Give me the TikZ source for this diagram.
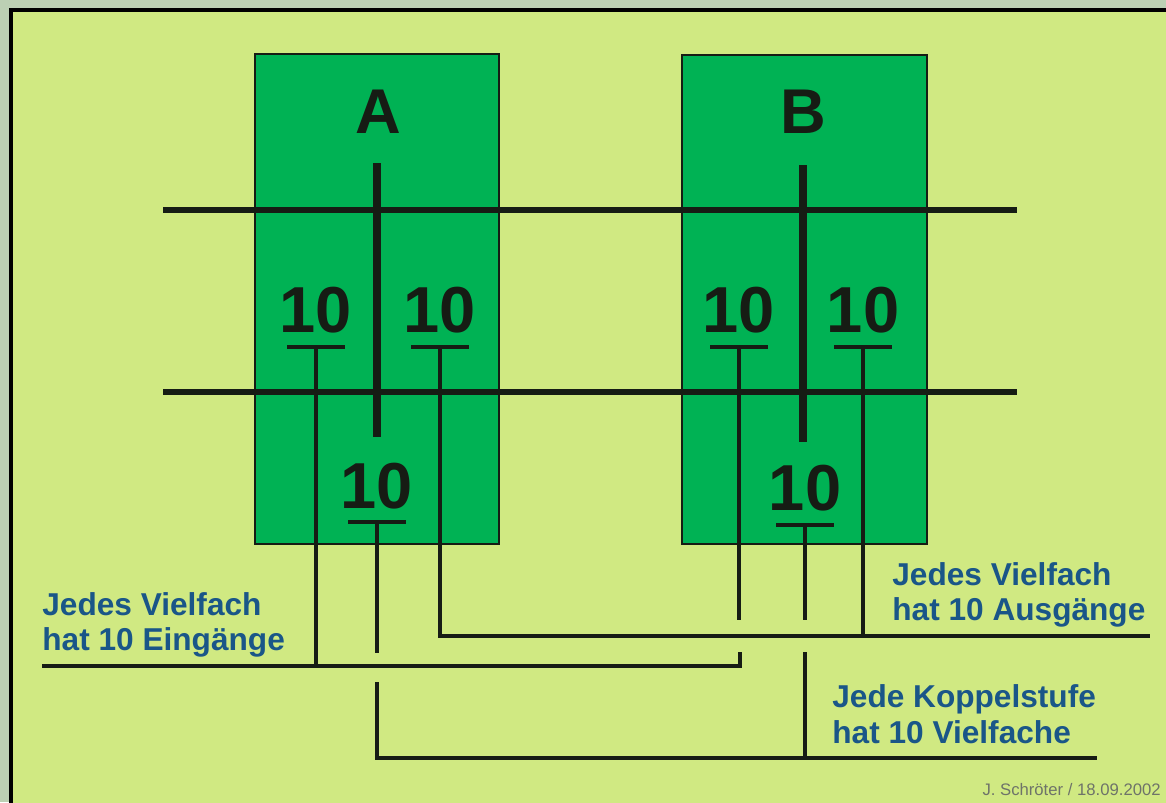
\documentclass[tikz,border=0pt]{standalone}
\usepackage{fontspec}
\setmainfont{Liberation Sans}
\definecolor{outerbg}{RGB}{188,208,180}
\definecolor{panel}{RGB}{208,233,130}
\definecolor{boxgreen}{RGB}{0,178,84}
\definecolor{ink}{RGB}{22,28,20}
\definecolor{labelblue}{RGB}{26,86,136}
\definecolor{credit}{RGB}{110,115,105}
\tikzset{
  x=0.02cm, y=-0.02cm,
  stagebox/.style={fill=boxgreen, draw=ink, line width=1.2pt},
  bus/.style={draw=ink, line width=3.4pt},
  bar/.style={draw=ink, line width=4.6pt},
  wire/.style={draw=ink, line width=1.9pt},
  num/.style={font=\fontsize{37}{40}\selectfont\bfseries, text=ink, inner sep=0pt, anchor=base},
  letter/.style={font=\fontsize{36}{40}\selectfont\bfseries, text=ink, inner sep=0pt, anchor=base},
  note/.style={font=\fontsize{18}{20}\selectfont\bfseries, text=labelblue, inner sep=0pt, anchor=base west},
}
\begin{document}
\begin{tikzpicture}
\useasboundingbox (0,0) rectangle (1166,802);
\begin{scope}
\clip (0,0) rectangle (1166,802);
\fill[outerbg] (0,0) rectangle (1166,802);
\draw[fill=panel, draw=black, line width=1.8pt] (11,10) rectangle (1200,840);

% boxes
\draw[stagebox] (255,54) rectangle (499,544);
\draw[stagebox] (682,55) rectangle (927,544);

% letters
\node[letter] (lA) at (378,133) {A};
\node[letter] (lB) at (803,133) {B};

% bus lines
\coordinate (b1l) at (163,210); \coordinate (b1r) at (1017,210);
\coordinate (b2l) at (163,392); \coordinate (b2r) at (1017,392);
\draw[bus] (b1l) -- (b1r);
\draw[bus] (b2l) -- (b2r);

% bars
\coordinate (aTop) at (377,163); \coordinate (aBot) at (377,437);
\coordinate (bTop) at (803,165); \coordinate (bBot) at (803,442);
\draw[bar] (aTop) -- (aBot);
\draw[bar] (bTop) -- (bBot);

% numbers
\node[num] (a1) at (316,332) {10};
\node[num] (a2) at (440,332) {10};
\node[num] (a3) at (377,508) {10};
\node[num] (b1) at (739,332) {10};
\node[num] (b2) at (863,332) {10};
\node[num] (b3) at (805,510) {10};

% underline coordinates
\foreach \n/\x/\y in {a1/316/347, a2/440/347, a3/377/522, b1/739/347, b2/863/347, b3/805/525}{
  \coordinate (\n L) at (\x-29,\y);
  \coordinate (\n R) at (\x+29,\y);
  \coordinate (\n S) at (\x,\y);
}
\foreach \n in {a1,a2,a3,b1,b2,b3}{
  \draw[wire] (\n L) -- (\n R);
}

% wiring
\coordinate (einL) at (42,666);
\coordinate (eJ) at (316,666);
\coordinate (eEnd) at (740,666);
\coordinate (eUp) at (740,652);
\draw[wire] (a1S) -- (eJ);
\draw[wire] (einL) -- (eEnd) -- (eUp);

\coordinate (ausC) at (440,636);
\coordinate (ausJ) at (863,636);
\coordinate (ausR) at (1150,636);
\draw[wire] (a2S) -- (ausC) -- (ausR);
\draw[wire] (b2S) -- (ausJ);

\coordinate (a3gap) at (377,653);
\coordinate (a3res) at (377,682);
\coordinate (botC) at (377,758);
\coordinate (botJ) at (805,758);
\coordinate (botR) at (1097,758);
\draw[wire] (a3S) -- (a3gap);
\draw[wire] (a3res) -- (botC) -- (botR);

\coordinate (b1end) at (739,620);
\draw[wire] (b1S) -- (b1end);
\coordinate (b3end) at (805,620);
\coordinate (b3res) at (805,652);
\draw[wire] (b3S) -- (b3end);
\draw[wire] (b3res) -- (botJ);

% notes
\node[note] (n1) at (42,615) {Jedes Vielfach};
\node[note] (n2) at (42,650) {hat 10 Eingänge};
\node[note] (n3) at (892,585) {Jedes Vielfach};
\node[note] (n4) at (892,620) {hat 10 Ausgänge};
\node[note] (n5) at (832,707) {Jede Koppelstufe};
\node[note] (n6) at (832,743) {hat 10 Vielfache};

\node[font=\fontsize{9.5}{11}\selectfont, text=credit, inner sep=0pt, anchor=base east] (cr) at (1161,795) {J. Schröter / 18.09.2002};
\end{scope}
\end{tikzpicture}
\end{document}
